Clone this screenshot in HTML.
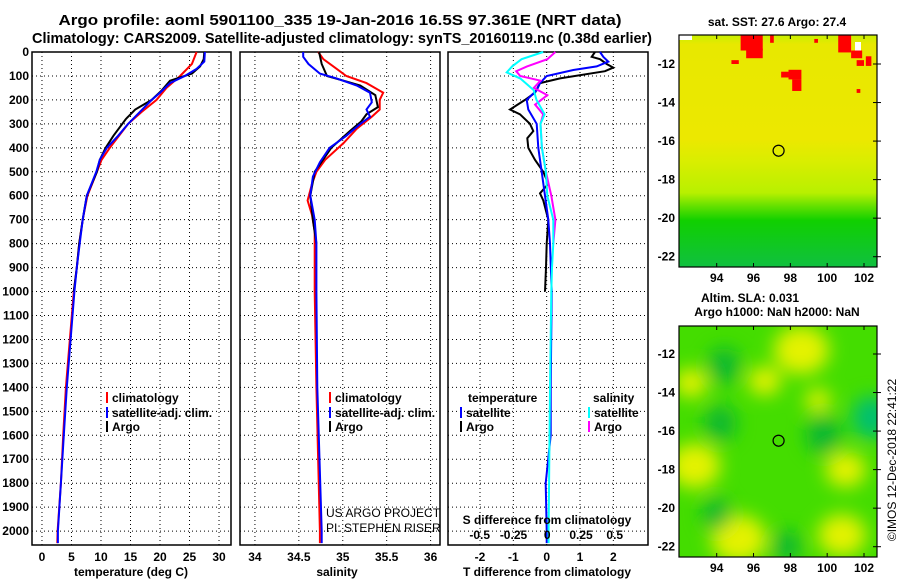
<!DOCTYPE html>
<html><head><meta charset="utf-8">
<style>
html,body{margin:0;padding:0;background:#fff;}
svg{display:block;font-family:"Liberation Sans",sans-serif;font-weight:bold;}
</style></head>
<body>
<svg id="fig" width="900" height="580" viewBox="0 0 900 580">
<defs>
<linearGradient id="sstGrad" x1="0" y1="0" x2="0" y2="1">
<stop offset="0" stop-color="#c8f000"/><stop offset="0.04" stop-color="#e8e800"/>
<stop offset="0.45" stop-color="#ece800"/><stop offset="0.55" stop-color="#d8ee00"/>
<stop offset="0.68" stop-color="#b8f000"/><stop offset="0.74" stop-color="#60e000"/>
<stop offset="0.8" stop-color="#10d000"/><stop offset="1" stop-color="#10c040"/>
</linearGradient>
<filter id="blur" x="-50%" y="-50%" width="200%" height="200%"><feGaussianBlur stdDeviation="9"/></filter>
<clipPath id="clipMap1"><rect x="679" y="35" width="198" height="232"/></clipPath>
<clipPath id="clipMap2"><rect x="679" y="326" width="198" height="231"/></clipPath>
</defs>
<text x="340" y="25" text-anchor="middle" font-size="15" textLength="563" lengthAdjust="spacingAndGlyphs">Argo profile: aoml 5901100_335 19-Jan-2016 16.5S 97.361E (NRT data)</text>
<text x="342" y="43" text-anchor="middle" font-size="15" textLength="620" lengthAdjust="spacingAndGlyphs">Climatology: CARS2009. Satellite-adjusted climatology: synTS_20160119.nc (0.38d earlier)</text>
<g id="panels"></g>
<g id="maps"></g>
</svg>
<script>
// ---- depth axis ----
const depthTicks = [0,100,200,300,400,500,600,700,800,900,1000,1100,1200,1300,1400,1500,1600,1700,1800,1900,2000];
// ---- temperature panel data ----
const tempClimDepth = [0,50,100,150,200,250,300,400,450,500,600,700,800,900,1000,1400,1600,1800,2000,2050];
const tempClim = [26.2,25.4,23.4,21.1,19.4,16.9,14.6,11.5,10.1,9.3,7.7,6.9,6.3,5.9,5.4,4.05,3.6,3.2,2.65,2.6];
const tempArgoDepth = [0,30,60,90,120,160,200,240,280,350,400,450,500,600,700,800,900,1000];
const tempArgo = [27.5,27.4,26.8,25.4,21.7,20.3,18.6,15.8,14.2,12.1,10.8,9.8,9.3,7.6,6.9,6.3,5.9,5.4];
const tempSatDepth = [0,40,70,100,130,170,200,250,300,350,400,450,500,600,700,800,900,1000,1400,1600,1800,2000,2050];
const tempSat = [27.6,27.5,26.2,24.2,21.7,20,18.6,16.6,14.6,12.9,11,9.8,9.2,7.6,6.9,6.4,5.9,5.5,4.2,3.7,3.2,2.7,2.7];
const tempTicks = [0,5,10,15,20,25,30];
// ---- salinity panel data ----
const salClimDepth = [0,30,70,100,130,170,200,240,270,320,380,450,500,550,620,680,750,1000,1400,2000,2050];
const salClim = [34.72,34.78,34.93,35.04,35.27,35.46,35.42,35.42,35.33,35.16,35.01,34.80,34.70,34.65,34.60,34.65,34.68,34.68,34.70,34.74,34.74];
const salArgoDepth = [0,50,100,120,140,180,230,260,290,330,400,500,600,700,800];
const salArgo = [34.73,34.76,34.82,35.01,35.20,35.37,35.40,35.27,35.21,35.08,34.87,34.68,34.63,34.66,34.70];
const salSatDepth = [0,20,50,90,110,140,170,210,240,270,300,350,400,460,520,600,700,800,1000,1400,2000,2050];
const salSat = [34.55,34.55,34.61,34.74,34.93,35.16,35.31,35.33,35.27,35.31,35.20,35.04,34.85,34.74,34.66,34.63,34.68,34.70,34.70,34.71,34.76,34.76];
const salTicks = [34,34.5,35,35.5,36];
const salTickLabels = ["34","34.5","35","35.5","36"];
// ---- difference panel data ----
const tdArgoDepth = [0,20,30,50,65,80,110,130,170,200,240,260,300,330,360,400,450,500,550,590,620,700,800,900,1000];
const tdArgo = [1.45,1.35,1.6,1.8,2.0,1.75,0.4,-0.2,-0.35,-0.65,-1.1,-0.8,-0.5,-0.4,-0.58,-0.55,-0.35,-0.1,0.05,-0.2,-0.1,0.05,0,-0.02,-0.05];
const tdSatDepth = [0,20,40,60,75,100,130,160,200,240,300,400,500,600,700,800,1000,1400,1600,1800,2000,2050];
const tdSat = [1.6,1.7,1.85,1.5,0.8,0,-0.2,-0.3,-0.6,-0.55,-0.3,-0.25,-0.15,-0.05,0.05,0.1,0.15,0.12,0.12,-0.03,0,0];
const sdSatDepth = [0,30,60,85,110,140,160,200,260,300,400,500,600,700,800,900,1000,1400,2000,2050];
const sdSat = [-0.03,-0.19,-0.26,-0.30,-0.2,-0.14,-0.10,-0.08,-0.02,-0.05,-0.04,-0.01,0,0.045,0.045,0.035,0.03,0.02,0.01,0.01];
const sdArgoDepth = [0,30,60,80,100,120,150,180,220,260,300,400,500,600,700,800];
const sdArgo = [0.06,0,-0.15,-0.23,-0.2,-0.05,-0.1,0,-0.09,-0.03,-0.05,-0.04,-0.01,0.03,0.06,0.045];
const tdTicks = [-2,-1,0,1,2];
const sdTicks = [-0.5,-0.25,0,0.25,0.5];
const sdTickLabels = ["-0.5","-0.25","0","0.25","0.5"];
// ---- maps ----
const mapLonTicks = [94,96,98,100,102];
const mapLatTicks = [-12,-14,-16,-18,-20,-22];
const argoLon = 97.361, argoLat = -16.5;
// red (warm) patches: west/north corner lon, lat, width (deg), height (deg)
const sstRedLon = [95.3,95.6,94.8,96.9,97.5,97.9,98.1,100.6,101.3,101.6,102.1,99.3,101.6];
const sstRedLat = [-10.5,-11.2,-11.8,-10.5,-12.4,-12.3,-12.8,-10.5,-11.3,-11.8,-11.6,-10.7,-13.3];
const sstRedW = [1.2,0.9,0.4,0.2,0.4,0.7,0.5,0.7,0.6,0.4,0.3,0.2,0.2];
const sstRedH = [0.8,0.5,0.2,0.4,0.3,0.5,0.6,0.9,0.4,0.3,0.5,0.2,0.2];
const slaYellowLon = [98.6,92.8,95.2,101.0,100.8,96.6,92.6,99.5];
const slaYellowLat = [-11.8,-17.8,-21.6,-18.0,-21.4,-13.4,-13.5,-14.4];
const slaYellowR = [1.5,1.4,1.5,1.1,1.3,0.9,0.9,0.7];
const slaGreenLon = [94.4,94.2,94.0,97.8,102.4,99.8];
const slaGreenLat = [-12.6,-15.6,-20.3,-22.0,-15.3,-16.2];
const slaGreenR = [1.0,1.0,0.9,0.9,1.2,1.1];

const NS='http://www.w3.org/2000/svg';
function mk(tag, attrs, parent){const e=document.createElementNS(NS,tag);for(const k in attrs)e.setAttribute(k,attrs[k]);parent.appendChild(e);return e;}
const panels=document.getElementById('panels');
const yTop=52, yBot=545, dMax=2058;
function yD(d){return yTop+(d/dMax)*(yBot-yTop);}
function lin(d0,d1,r0,r1){return v=>r0+(v-d0)/(d1-d0)*(r1-r0);}

function frame(x0,x1,name,vticks,xs){
  const g=mk('g',{},panels);
  
  
  for(const t of depthTicks){const y=yD(t);mk('line',{x1:x0,x2:x1,y1:y,y2:y,stroke:'#000','stroke-width':1,'stroke-dasharray':'1,3'},g);}
  for(const t of vticks){const x=xs(t);mk('line',{x1:x,x2:x,y1:yTop,y2:yBot,stroke:'#000','stroke-width':1,'stroke-dasharray':'1,3'},g);}
  const r=mk('rect',{x:x0,y:yTop,width:x1-x0,height:yBot-yTop,fill:'none',stroke:'#000','stroke-width':1.5},g);
  
  
  return g;
}
function series(g,depths,vals,xs,color,name){
  const pts=depths.map((d,i)=>xs(vals[i]).toFixed(1)+','+yD(d).toFixed(1)).join(' ');
  const p=mk('polyline',{points:pts,fill:'none',stroke:color,'stroke-width':2},g);
  
  
}
function txt(g,x,y,s,opt,name){
  const t=mk('text',Object.assign({x:x,y:y,'font-size':12},opt||{}),g);t.textContent=s;
  
  
  return t;
}
function legendRow(g,x,y,color,label,name){
  const l=mk('line',{x1:x,x2:x,y1:y-10,y2:y+1,stroke:color,'stroke-width':2},g);
  
  
  txt(g,x+5,y,label,{},name);
}

const ya=mk('g',{},panels);


for(const t of depthTicks){txt(ya,29,yD(t)+4,String(t),{'text-anchor':'end'},'depth-tick-'+t);}

// Panel 1
const xT=lin(-1.69,32.03,32,231);
const g1=frame(32,231,'temperature-panel',tempTicks,xT);
series(g1,tempClimDepth,tempClim,xT,'#f00','temp-climatology-line');
series(g1,tempArgoDepth,tempArgo,xT,'#000','temp-argo-line');
series(g1,tempSatDepth,tempSat,xT,'#00f','temp-satellite-line');
for(const t of tempTicks){txt(g1,xT(t),561,String(t),{'text-anchor':'middle'},'temp-tick-'+t);}
txt(g1,131,576,'temperature (deg C)',{'text-anchor':'middle'},'temperature-axis-title');
legendRow(g1,107,402,'#f00','climatology','temp-legend-climatology');
legendRow(g1,107,417,'#00f','satellite-adj. clim.','temp-legend-satellite');
legendRow(g1,107,431,'#000','Argo','temp-legend-argo');

// Panel 2
const xS=lin(33.83,36.107,240,440);
const g2=frame(240,440,'salinity-panel',salTicks,xS);
series(g2,salClimDepth,salClim,xS,'#f00','sal-climatology-line');
series(g2,salArgoDepth,salArgo,xS,'#000','sal-argo-line');
series(g2,salSatDepth,salSat,xS,'#00f','sal-satellite-line');
salTicks.forEach((t,i)=>txt(g2,xS(t),561,salTickLabels[i],{'text-anchor':'middle'},'sal-tick-'+i));
txt(g2,337,576,'salinity',{'text-anchor':'middle'},'salinity-axis-title');
legendRow(g2,330,402,'#f00','climatology','sal-legend-climatology');
legendRow(g2,330,417,'#00f','satellite-adj. clim.','sal-legend-satellite');
legendRow(g2,330,431,'#000','Argo','sal-legend-argo');
txt(g2,326,517,'US ARGO PROJECT',{'font-weight':'normal'},'credit-project');
txt(g2,326,532,'PI: STEPHEN RISER',{'font-weight':'normal'},'credit-pi');

// Panel 3
const xTD=lin(-2.96,3.04,448,648);
const xSD=lin(-0.735,0.746,448,648);
const g3=frame(448,648,'difference-panel',tdTicks,xTD);
series(g3,tdArgoDepth,tdArgo,xTD,'#000','tdiff-argo-line');
series(g3,tdSatDepth,tdSat,xTD,'#00f','tdiff-satellite-line');
series(g3,sdArgoDepth,sdArgo,xSD,'#f0f','sdiff-argo-line');
series(g3,sdSatDepth,sdSat,xSD,'#0ff','sdiff-satellite-line');
for(const t of tdTicks){txt(g3,xTD(t),561,String(t),{'text-anchor':'middle'},'tdiff-tick-'+t);}
txt(g3,547,576,'T difference from climatology',{'text-anchor':'middle'},'tdiff-axis-title');
txt(g3,547,524,'S difference from climatology',{'text-anchor':'middle'},'sdiff-axis-title');
sdTicks.forEach((t,i)=>txt(g3,xSD(t),539,sdTickLabels[i],{'text-anchor':'middle'},'sdiff-tick-'+i));
txt(g3,468,402,'temperature',{},'diff-legend-temperature-header');
legendRow(g3,461,417,'#00f','satellite','diff-legend-temp-satellite');
legendRow(g3,461,431,'#000','Argo','diff-legend-temp-argo');
txt(g3,593,402,'salinity',{},'diff-legend-salinity-header');
legendRow(g3,589,417,'#0ff','satellite','diff-legend-sal-satellite');
legendRow(g3,589,431,'#f0f','Argo','diff-legend-sal-argo');

// ---- Maps ----
const maps=document.getElementById('maps');
function buildMap(top,bot,y12,y22,name,clip){
  const xLon=lin(94,102,716.7,864);
  const yLat=lin(-12,-22,y12,y22);
  const g=mk('g',{},maps);
  
  
  const inner=mk('g',{'clip-path':'url(#'+clip+')'},g);
  return {g,inner,xLon,yLat,top,bot};
}
function finishMap(m){
  const {g,xLon,yLat,top,bot}=m;
  const c=mk('circle',{cx:xLon(argoLon),cy:yLat(argoLat),r:5.5,fill:'none',stroke:'#000','stroke-width':1.2},g);
  
  
  const r=mk('rect',{x:679,y:top,width:198,height:bot-top,fill:'none',stroke:'#000','stroke-width':1.2},g);
  
  
  for(const lon of mapLonTicks){const x=xLon(lon);mk('line',{x1:x,x2:x,y1:top,y2:top+4,stroke:'#000'},g);mk('line',{x1:x,x2:x,y1:bot,y2:bot-4,stroke:'#000'},g);
    txt(g,x,bot+15,String(lon),{'text-anchor':'middle'},'map-lon-tick-'+lon);}
  for(const lat of mapLatTicks){const y=yLat(lat);mk('line',{x1:873,x2:881,y1:y,y2:y,stroke:'#000'},g);
    txt(g,675,y+4,String(lat),{'text-anchor':'end'},'map-lat-tick'+lat);}
}
const m1=buildMap(35,267,64,256.7,'sst-map','clipMap1');
mk('rect',{x:679,y:35,width:198,height:232,fill:'url(#sstGrad)'},m1.inner);
mk('rect',{x:679,y:35,width:13,height:5,fill:'#fff'},m1.inner);
mk('rect',{x:855,y:42,width:6,height:10,fill:'#fff'},m1.inner);
sstRedLon.forEach((lon,i)=>{const x0=m1.xLon(lon),y0=m1.yLat(sstRedLat[i]);
  const r=mk('rect',{x:x0,y:y0,width:m1.xLon(lon+sstRedW[i])-x0,height:m1.yLat(sstRedLat[i]-sstRedH[i])-y0,fill:'#f00'},m1.inner);
  
  });
finishMap(m1);
txt(maps,777,26,'sat. SST: 27.6 Argo: 27.4',{'text-anchor':'middle'},'sst-map-title');
const m2=buildMap(326,557,354,546.7,'sla-map','clipMap2');
mk('rect',{x:679,y:326,width:198,height:231,fill:'#44dd00'},m2.inner);
const blobs=mk('g',{filter:'url(#blur)'},m2.inner);
slaYellowLon.forEach((lon,i)=>{const e=mk('ellipse',{cx:m2.xLon(lon),cy:m2.yLat(slaYellowLat[i]),rx:slaYellowR[i]*18.4,ry:slaYellowR[i]*16,fill:'#e4f200'},blobs);
  
  });
slaGreenLon.forEach((lon,i)=>{const e=mk('ellipse',{cx:m2.xLon(lon),cy:m2.yLat(slaGreenLat[i]),rx:slaGreenR[i]*16,ry:slaGreenR[i]*18,fill:i===4?'#00c070':'#10b830'},blobs);
  
  });
finishMap(m2);
txt(maps,750,302,'Altim. SLA: 0.031',{'text-anchor':'middle'},'sla-map-title');
txt(maps,777,316,'Argo h1000: NaN h2000: NaN',{'text-anchor':'middle'},'sla-map-subtitle');
txt(maps,0,0,'©IMOS 12-Dec-2018 22:41:22',{'text-anchor':'middle','font-weight':'normal',transform:'translate(896,460) rotate(-90)'},'imos-timestamp');
</script>
</body></html>
